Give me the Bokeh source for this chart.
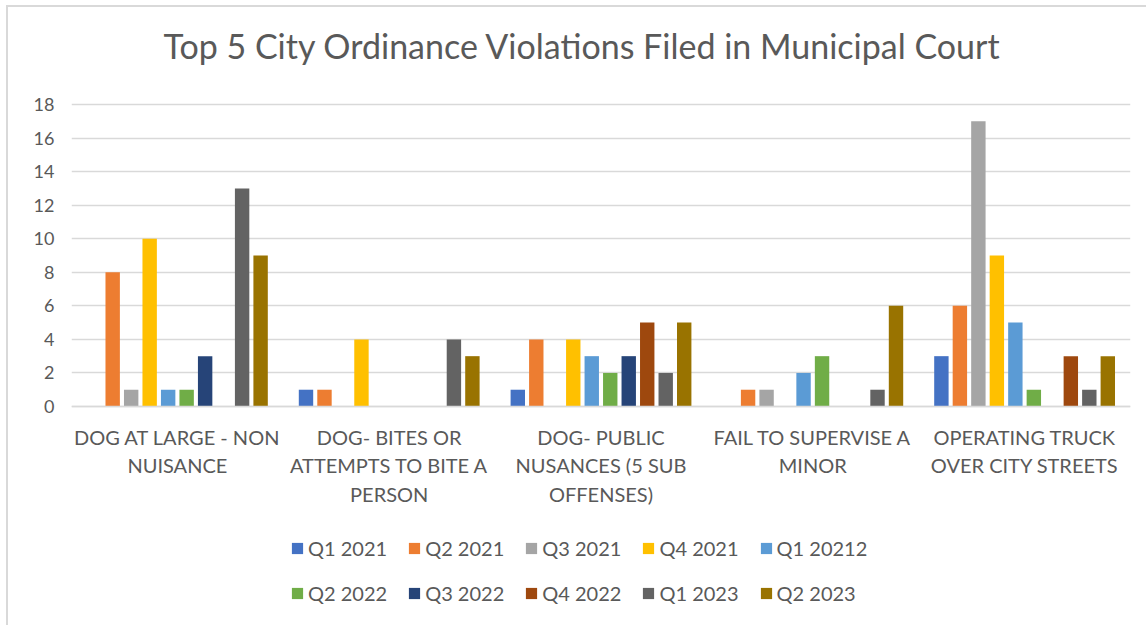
from bokeh.plotting import figure
from bokeh.models import FactorRange, Range1d, Legend, LegendItem, FixedTicker, ColumnDataSource, InlineStyleSheet
from bokeh.transform import dodge
from bokeh.embed import file_html
from bokeh.resources import INLINE

categories = [
    "DOG AT LARGE - NON\nNUISANCE",
    "DOG- BITES OR\nATTEMPTS TO BITE A\nPERSON",
    "DOG- PUBLIC\nNUSANCES (5 SUB\nOFFENSES)",
    "FAIL TO SUPERVISE A\nMINOR",
    "OPERATING TRUCK\nOVER CITY STREETS",
]
series_names = ["Q1 2021", "Q2 2021", "Q3 2021", "Q4 2021", "Q1 20212",
                "Q2 2022", "Q3 2022", "Q4 2022", "Q1 2023", "Q2 2023"]
q1_2021 = [0, 1, 1, 0, 3]
q2_2021 = [8, 1, 4, 1, 6]
q3_2021 = [1, 0, 0, 1, 17]
q4_2021 = [10, 4, 4, 0, 9]
q1_20212 = [1, 0, 3, 2, 5]
q2_2022 = [1, 0, 2, 3, 1]
q3_2022 = [3, 0, 3, 0, 0]
q4_2022 = [0, 0, 5, 0, 3]
q1_2023 = [13, 4, 2, 1, 1]
q2_2023 = [9, 3, 5, 6, 3]
y_ticks = [0, 2, 4, 6, 8, 10, 12, 14, 16, 18]

series_values = [q1_2021, q2_2021, q3_2021, q4_2021, q1_20212,
                 q2_2022, q3_2022, q4_2022, q1_2023, q2_2023]
colors = ["#4472C4", "#ED7D31", "#A5A5A5", "#FFC000", "#5B9BD5",
          "#70AD47", "#264478", "#9E480E", "#636363", "#997300"]

data = {"cat": categories}
keys = []
for i, vals in enumerate(series_values):
    k = "s%d" % i
    keys.append(k)
    data[k] = vals
source = ColumnDataSource(data)

FONT = "Lato"
TXT = "#595959"

# layout: title panel on top, frame holds the value area plus room below for labels and legend
title_px = 87
px_per_unit = 302 / 18.0
above_px = 104 - title_px
below_px = 625 - 406
frame_h = above_px + 302 + below_px

frame_css = InlineStyleSheet(css="""
:host { position: relative; }
:host::after {
  content: ""; position: absolute; left: 6px; top: 5px; right: 0; bottom: 0;
  border-top: 2px solid #d9d9d9; border-left: 2px solid #d9d9d9;
  pointer-events: none;
}
""")

p = figure(
    x_range=FactorRange(factors=categories),
    y_range=Range1d(-below_px / px_per_unit, 18 + above_px / px_per_unit),
    frame_width=1059, frame_height=frame_h,
    min_border_left=71, min_border_right=16, min_border_top=0, min_border_bottom=0,
    output_backend="svg", toolbar_location=None,
    title="Top 5 City Ordinance Violations Filed in Municipal Court",
    stylesheets=[frame_css],
)
p.title.align = "left"
p.title.offset = 92
p.title.text_font = FONT
p.title.text_font_style = "normal"
p.title.text_font_size = "34px"
p.title.text_color = TXT
p.title.standoff = 44

step = 0.0873
width = 0.068
items = []
for j, (k, name, c) in enumerate(zip(keys, series_names, colors)):
    r = p.vbar(x=dodge("cat", (j - 4.5) * step, range=p.x_range), top=k, width=width,
               source=source, fill_color=c, line_color=None)
    items.append(LegendItem(label=name, renderers=[r]))

p.yaxis.ticker = FixedTicker(ticks=y_ticks)
p.yaxis.axis_line_color = None
p.yaxis.major_tick_line_color = None
p.yaxis.minor_tick_line_color = None
p.yaxis.major_label_text_font = FONT
p.yaxis.major_label_text_font_size = "18px"
p.yaxis.major_label_text_color = TXT
p.yaxis.major_label_standoff = 11

p.xaxis.fixed_location = 0
p.xaxis.axis_line_color = "#d9d9d9"
p.xaxis.axis_line_width = 1.5
p.xaxis.major_tick_line_color = None
p.xaxis.minor_tick_line_color = None
p.xaxis.major_label_text_font = FONT
p.xaxis.major_label_text_font_size = "20px"
p.xaxis.major_label_text_color = TXT
p.xaxis.major_label_text_line_height = 1.2
p.xaxis.major_label_standoff = 12

p.xgrid.grid_line_color = None
p.ygrid.grid_line_color = "#d9d9d9"
p.ygrid.grid_line_width = 1.5
p.outline_line_color = None

legend = Legend(items=items, orientation="horizontal", ncols=5,
                location=(219, 20), label_text_font=FONT, label_text_font_size="20px",
                label_text_color=TXT, glyph_width=14, glyph_height=14,
                label_height=25, label_standoff=4, spacing=20, margin=0, padding=0,
                border_line_color=None, background_fill_alpha=0)
p.add_layout(legend, "center")

open("out.html", "w").write(file_html(p, INLINE))
